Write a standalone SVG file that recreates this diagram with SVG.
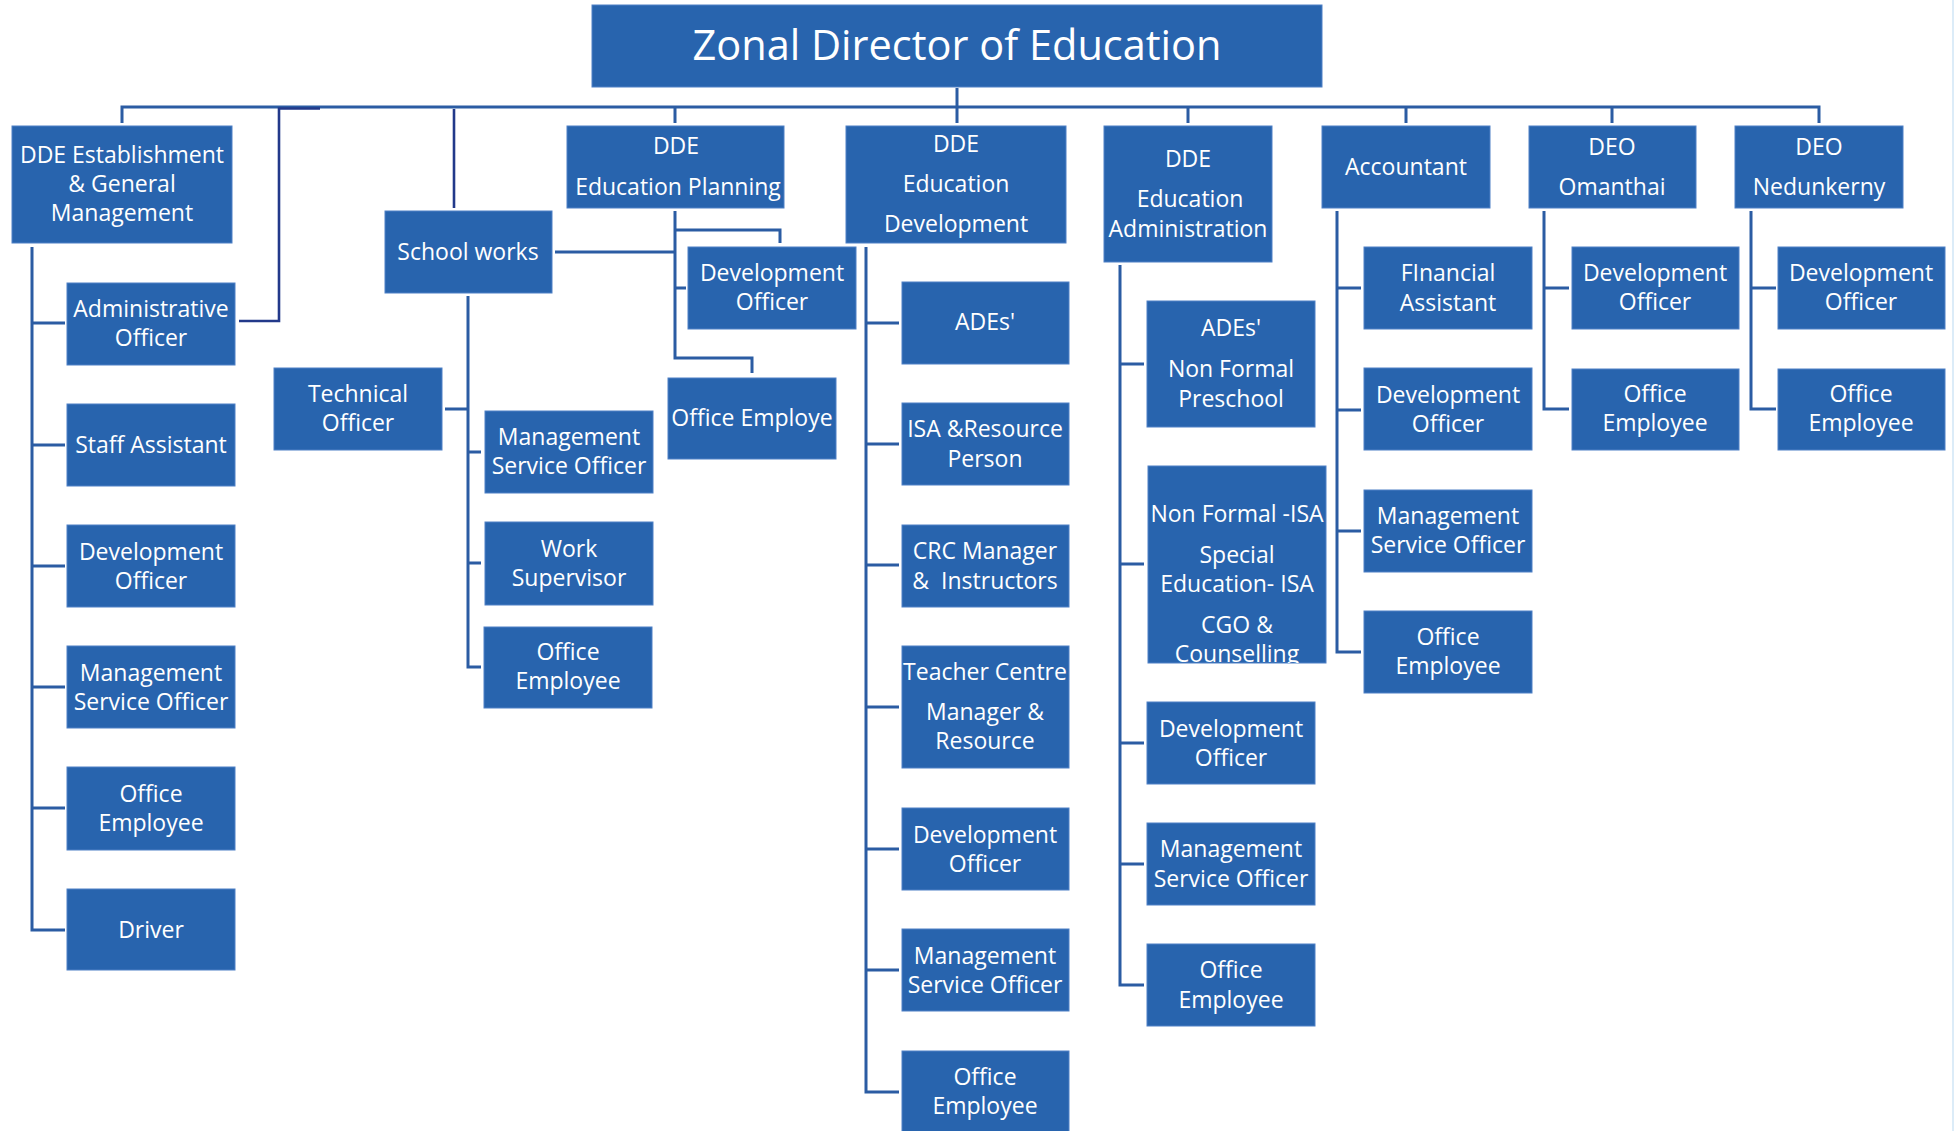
<svg xmlns="http://www.w3.org/2000/svg" width="1955" height="1131" viewBox="0 0 1955 1131">
<style>
.b{fill:#2864AE;stroke:#4f80c6;stroke-width:1}
.t{fill:#ffffff;font-family:"Open Sans","Noto Sans","Liberation Sans",sans-serif;font-size:23px;text-anchor:middle}
.big{font-size:41.5px}
.c{fill:none;stroke:#2B5CA3;stroke-width:3}
.n{fill:none;stroke:#22398A;stroke-width:2.6}
</style>
<defs>
<clipPath id="clipisa"><rect x="1148" y="466" width="178" height="197"/></clipPath>
</defs>
<rect x="0" y="0" width="1955" height="1131" fill="#ffffff"/>
<line x1="1953" y1="0" x2="1953" y2="1131" stroke="#dcecf8" stroke-width="2"/>
<g id="connectors">
<path class="c" d="M957,88 V107"/>
<path class="c" d="M122,123 V107 H1819 V123"/>
<path class="c" d="M675,107 V123 M957,107 V123 M1188,107 V123 M1406,107 V123 M1612,107 V123"/>
<path class="n" d="M320,108.5 H279 V321 H239"/>
<path class="n" d="M454,109 V208"/>
<path class="c" d="M32,247 V930 H65 M32,323 H65 M32,445 H65 M32,566 H65 M32,687 H65 M32,808 H65"/>
<path class="c" d="M468,296 V667 H481 M445,409 H468 M468,452 H481 M468,563 H481"/>
<path class="c" d="M555,252 H674"/>
<path class="c" d="M675,211 V358 H752 V373 M675,230 H780 V243 M675,288 H686"/>
<path class="c" d="M866,247 V1092 H899 M866,323 H899 M866,444 H899 M866,565 H899 M866,707 H899 M866,849 H899 M866,970 H899"/>
<path class="c" d="M1120,265 V985 H1144 M1120,364 H1144 M1120,564 H1144 M1120,743 H1144 M1120,864 H1144"/>
<path class="c" d="M1337,211 V652 H1361 M1337,288 H1361 M1337,410 H1361 M1337,531 H1361"/>
<path class="c" d="M1544,211 V409 H1569 M1544,288 H1569"/>
<path class="c" d="M1751,211 V409 H1776 M1751,288 H1776"/>
</g>
<g id="zonal-director"><rect class="b" x="592" y="5" width="730" height="82"/><text class="t big" x="957" y="60">Zonal Director of Education</text></g>

<g id="dde-establishment"><rect class="b" x="12" y="126" width="220" height="117"/><text class="t" x="122" y="163">DDE Establishment</text><text class="t" x="122" y="192">&amp; General</text><text class="t" x="122" y="221">Management</text></g>
<g id="est-admin-officer"><rect class="b" x="67" y="283" width="168" height="82"/><text class="t" x="151" y="317">Administrative</text><text class="t" x="151" y="346">Officer</text></g>
<g id="est-staff-assistant"><rect class="b" x="67" y="404" width="168" height="82"/><text class="t" x="151" y="453">Staff Assistant</text></g>
<g id="est-dev-officer"><rect class="b" x="67" y="525" width="168" height="82"/><text class="t" x="151" y="560">Development</text><text class="t" x="151" y="589">Officer</text></g>
<g id="est-mso"><rect class="b" x="67" y="646" width="168" height="82"/><text class="t" x="151" y="681">Management</text><text class="t" x="151" y="710">Service Officer</text></g>
<g id="est-office-employee"><rect class="b" x="67" y="767" width="168" height="83"/><text class="t" x="151" y="802">Office</text><text class="t" x="151" y="831">Employee</text></g>
<g id="est-driver"><rect class="b" x="67" y="889" width="168" height="81"/><text class="t" x="151" y="938">Driver</text></g>

<g id="school-works"><rect class="b" x="385" y="211" width="167" height="82"/><text class="t" x="468" y="260">School works</text></g>
<g id="sw-technical-officer"><rect class="b" x="274" y="368" width="168" height="82"/><text class="t" x="358" y="402">Technical</text><text class="t" x="358" y="431">Officer</text></g>
<g id="sw-mso"><rect class="b" x="485" y="411" width="168" height="82"/><text class="t" x="569" y="445">Management</text><text class="t" x="569" y="474">Service Officer</text></g>
<g id="sw-work-supervisor"><rect class="b" x="485" y="522" width="168" height="83"/><text class="t" x="569" y="557">Work</text><text class="t" x="569" y="586">Supervisor</text></g>
<g id="sw-office-employee"><rect class="b" x="484" y="627" width="168" height="81"/><text class="t" x="568" y="660">Office</text><text class="t" x="568" y="689">Employee</text></g>

<g id="dde-planning"><rect class="b" x="567" y="126" width="217" height="82"/><text class="t" x="676" y="154">DDE</text><text class="t" x="678" y="195">Education Planning</text></g>
<g id="pl-dev-officer"><rect class="b" x="688" y="247" width="168" height="82"/><text class="t" x="772" y="281">Development</text><text class="t" x="772" y="310">Officer</text></g>
<g id="pl-office-employe"><rect class="b" x="668" y="378" width="168" height="81"/><text class="t" x="752" y="426">Office Employe</text></g>

<g id="dde-development"><rect class="b" x="846" y="126" width="220" height="117"/><text class="t" x="956" y="152">DDE</text><text class="t" x="956" y="192">Education</text><text class="t" x="956" y="232">Development</text></g>
<g id="dev-ades"><rect class="b" x="902" y="282" width="167" height="82"/><text class="t" x="985" y="330">ADEs'</text></g>
<g id="dev-isa"><rect class="b" x="902" y="403" width="167" height="82"/><text class="t" x="985" y="437">ISA &amp;Resource</text><text class="t" x="985" y="467">Person</text></g>
<g id="dev-crc"><rect class="b" x="902" y="525" width="167" height="82"/><text class="t" x="985" y="559">CRC Manager</text><text class="t" x="985" y="589" xml:space="preserve">&amp;  Instructors</text></g>
<g id="dev-teacher-centre"><rect class="b" x="902" y="646" width="167" height="122"/><text class="t" x="985" y="680">Teacher Centre</text><text class="t" x="985" y="720">Manager &amp;</text><text class="t" x="985" y="749">Resource</text></g>
<g id="dev-dev-officer"><rect class="b" x="902" y="808" width="167" height="82"/><text class="t" x="985" y="843">Development</text><text class="t" x="985" y="872">Officer</text></g>
<g id="dev-mso"><rect class="b" x="902" y="929" width="167" height="82"/><text class="t" x="985" y="964">Management</text><text class="t" x="985" y="993">Service Officer</text></g>
<g id="dev-office-employee"><rect class="b" x="902" y="1051" width="167" height="82"/><text class="t" x="985" y="1085">Office</text><text class="t" x="985" y="1114">Employee</text></g>

<g id="dde-administration"><rect class="b" x="1104" y="126" width="168" height="136"/><text class="t" x="1188" y="167">DDE</text><text class="t" x="1190" y="207">Education</text><text class="t" x="1188" y="237">Administration</text></g>
<g id="adm-ades-preschool"><rect class="b" x="1147" y="301" width="168" height="126"/><text class="t" x="1231" y="336">ADEs'</text><text class="t" x="1231" y="377">Non Formal</text><text class="t" x="1231" y="407">Preschool</text></g>
<g id="adm-isa"><rect class="b" x="1148" y="466" width="178" height="197"/><g clip-path="url(#clipisa)"><text class="t" x="1237" y="522">Non Formal -ISA</text><text class="t" x="1237" y="563">Special</text><text class="t" x="1237" y="592">Education- ISA</text><text class="t" x="1237" y="633">CGO &amp;</text><text class="t" x="1237" y="662">Counselling</text></g></g>
<g id="adm-dev-officer"><rect class="b" x="1147" y="702" width="168" height="82"/><text class="t" x="1231" y="737">Development</text><text class="t" x="1231" y="766">Officer</text></g>
<g id="adm-mso"><rect class="b" x="1147" y="823" width="168" height="82"/><text class="t" x="1231" y="857">Management</text><text class="t" x="1231" y="887">Service Officer</text></g>
<g id="adm-office-employee"><rect class="b" x="1147" y="944" width="168" height="82"/><text class="t" x="1231" y="978">Office</text><text class="t" x="1231" y="1008">Employee</text></g>

<g id="accountant"><rect class="b" x="1322" y="126" width="168" height="82"/><text class="t" x="1406" y="175">Accountant</text></g>
<g id="acc-financial-assistant"><rect class="b" x="1364" y="247" width="168" height="82"/><text class="t" x="1448" y="281">FInancial</text><text class="t" x="1448" y="311">Assistant</text></g>
<g id="acc-dev-officer"><rect class="b" x="1364" y="368" width="168" height="82"/><text class="t" x="1448" y="403">Development</text><text class="t" x="1448" y="432">Officer</text></g>
<g id="acc-mso"><rect class="b" x="1364" y="490" width="168" height="82"/><text class="t" x="1448" y="524">Management</text><text class="t" x="1448" y="553">Service Officer</text></g>
<g id="acc-office-employee"><rect class="b" x="1364" y="611" width="168" height="82"/><text class="t" x="1448" y="645">Office</text><text class="t" x="1448" y="674">Employee</text></g>

<g id="deo-omanthai"><rect class="b" x="1529" y="126" width="167" height="82"/><text class="t" x="1612" y="155">DEO</text><text class="t" x="1612" y="195">Omanthai</text></g>
<g id="om-dev-officer"><rect class="b" x="1572" y="247" width="167" height="82"/><text class="t" x="1655" y="281">Development</text><text class="t" x="1655" y="310">Officer</text></g>
<g id="om-office-employee"><rect class="b" x="1572" y="369" width="167" height="81"/><text class="t" x="1655" y="402">Office</text><text class="t" x="1655" y="431">Employee</text></g>

<g id="deo-nedunkerny"><rect class="b" x="1735" y="126" width="168" height="82"/><text class="t" x="1819" y="155">DEO</text><text class="t" x="1819" y="195">Nedunkerny</text></g>
<g id="ned-dev-officer"><rect class="b" x="1778" y="247" width="167" height="82"/><text class="t" x="1861" y="281">Development</text><text class="t" x="1861" y="310">Officer</text></g>
<g id="ned-office-employee"><rect class="b" x="1778" y="369" width="167" height="81"/><text class="t" x="1861" y="402">Office</text><text class="t" x="1861" y="431">Employee</text></g>
</svg>
